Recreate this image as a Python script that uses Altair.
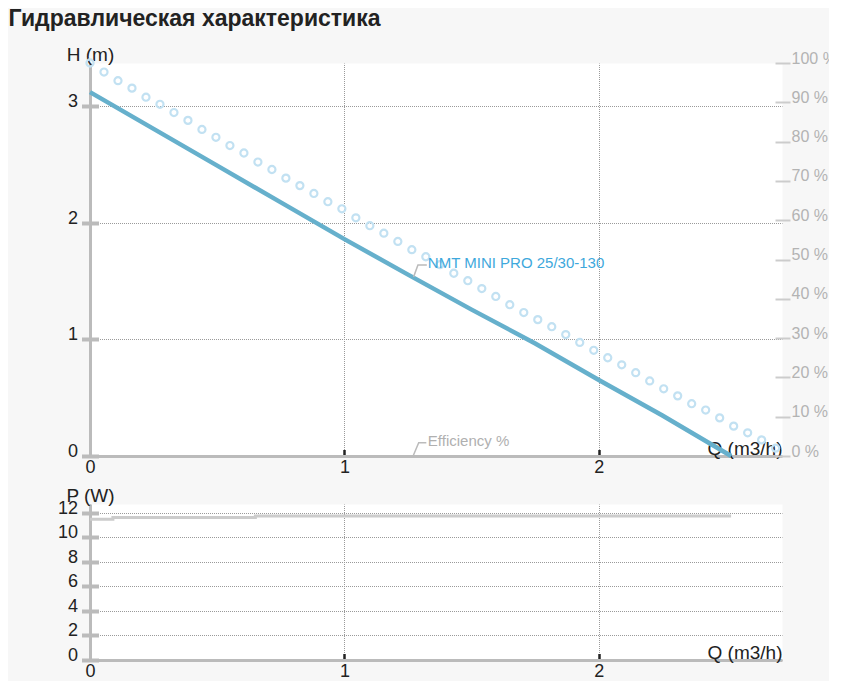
import altair as alt
import pandas as pd

# ---------------- data ----------------
chart_title = "Гидравлическая характеристика"
pump_name = "NMT MINI PRO 25/30-130"
eff_name = "Efficiency %"

q_head = [0.0, 0.25, 0.5, 0.75, 1.0, 1.25, 1.5, 1.75, 2.0, 2.25, 2.52]
h_head = [3.12, 2.805, 2.49, 2.175, 1.86, 1.555, 1.255, 0.965, 0.652, 0.347, 0.0]

q_eff = [0.0, 0.055, 0.11, 0.165, 0.22, 0.275, 0.33, 0.385, 0.44, 0.495,
         0.55, 0.605, 0.66, 0.715, 0.77, 0.825, 0.88, 0.935, 0.99, 1.045,
         1.1, 1.155, 1.21, 1.265, 1.32, 1.375, 1.43, 1.485, 1.54, 1.595,
         1.65, 1.705, 1.76, 1.815, 1.87, 1.925, 1.98, 2.035, 2.09, 2.145,
         2.2, 2.255, 2.31, 2.365, 2.42, 2.475, 2.53, 2.585, 2.64, 2.695]
eff = [100.0, 97.7, 95.5, 93.6, 91.3, 89.5, 87.4, 85.4, 83.1, 81.1,
       79.0, 77.1, 74.8, 72.9, 70.7, 68.8, 66.8, 64.7, 62.9, 60.6,
       58.6, 56.7, 54.6, 52.5, 50.7, 48.7, 46.5, 44.6, 42.6, 40.6,
       38.5, 36.5, 34.7, 32.9, 30.9, 28.9, 26.9, 25.0, 23.2, 21.2,
       19.1, 17.1, 15.3, 13.3, 11.7, 9.7, 7.6, 5.9, 4.1, 2.0]

q_power = [0.0, 0.09, 0.65, 2.52]
p_power = [11.45, 11.6, 11.72, 11.72]

q_ticks = [0, 1, 2]
h_ticks = [0, 1, 2, 3]
eff_ticks = [0, 10, 20, 30, 40, 50, 60, 70, 80, 90, 100]
p_ticks = [0, 2, 4, 6, 8, 10, 12]

q_domain = [0, 2.72]
h_domain = [0, 3.37]
eff_domain = [0, 100]
p_domain = [0, 12.7]

# callouts (data coordinates Q, H)
name_conn_q = [1.272, 1.289, 1.324]
name_conn_h = [1.536, 1.637, 1.637]
name_lab_q = [1.328]
name_lab_h = [1.651]
eff_conn_q = [1.270, 1.292, 1.322]
eff_conn_h = [0.0, 0.114, 0.114]
eff_lab_q = [1.328]
eff_lab_h = [0.129]

# ---------------- style ----------------
FONT = "Liberation Sans"
W = 692
H_TOP = 393
H_BOT = 156
GRID = dict(grid=True, gridColor="#9a9a9a", gridDash=[1, 1], gridDashOffset=0.5,
            gridWidth=1)

head_df = pd.DataFrame({"Q": q_head, "H": h_head})
eff_df = pd.DataFrame({"Q": q_eff, "E": eff})
power_df = pd.DataFrame({"Q": q_power, "P": p_power})
name_conn_df = pd.DataFrame({"Q": name_conn_q, "H": name_conn_h})
eff_conn_df = pd.DataFrame({"Q": eff_conn_q, "H": eff_conn_h})
name_lab_df = pd.DataFrame({"Q": name_lab_q, "H": name_lab_h, "t": [pump_name]})
eff_lab_df = pd.DataFrame({"Q": eff_lab_q, "H": eff_lab_h, "t": [eff_name]})


def x_axis():
    return alt.Axis(
        values=q_ticks, **GRID,
        domainColor="#bbbbbb", domainWidth=3,
        tickColor="#222222", tickWidth=2.5, tickSize={"expr": "-6.5"},
        labelPadding=9, labelFontSize=18, labelColor="#222222", labelFlush=False,
        title="Q (m3/h)", titleX=W, titleY=-2, titleAlign="right",
        titleBaseline="alphabetic", titleFontSize=19, titleFontWeight="normal",
        titleColor="#222222",
    )


def left_axis(vals, ttl):
    return alt.Axis(
        orient="left", values=vals, **GRID,
        domainColor="#bbbbbb", domainWidth=3, ticks=False, tickSize=0,
        labelPadding=12.5, labelOffset=-4.5, labelFontSize=18, labelColor="#222222",
        labelFlush=False, labelOverlap=False,
        title=ttl, titleAngle=0, titleX=0, titleY=-3, titleAlign="center",
        titleBaseline="alphabetic", titleFontSize=19, titleFontWeight="normal",
        titleColor="#222222",
    )


def stub_axis(vals):
    return alt.Axis(
        orient="left", values=vals, offset=-8.5, tickSize=17, tickWidth=4,
        tickColor="#bbbbbb", labels=False, domain=False, grid=False, title=None,
    )


xs = alt.Scale(domain=q_domain, nice=False, zero=False)
hs = alt.Scale(domain=h_domain, nice=False)
es = alt.Scale(domain=eff_domain, nice=False)
ps = alt.Scale(domain=p_domain, nice=False)

X = alt.X("Q:Q", scale=xs, axis=x_axis())
YH = alt.Y("H:Q", scale=hs, axis=left_axis(h_ticks, "H (m)"))

eff_axis = alt.Axis(
    orient="right", values=eff_ticks, offset=-7, tickSize=15, tickWidth=2,
    tickColor="#cccccc", domain=False, grid=False,
    labelExpr="datum.value + ' %'", labelFontSize=16, labelColor="#b3b3b3",
    labelAlign="left", labelBaseline="alphabetic", labelPadding=1,
    labelOverlap=False, labelFlush=False, title=None,
)

eff_pts = alt.Chart(eff_df).mark_point(
    shape="circle", filled=False, size=50, strokeWidth=2.2, color="#c2e1f2", opacity=1
).encode(x=X, y=alt.Y("E:Q", scale=es, axis=eff_axis))

h_line = alt.Chart(head_df).mark_line(color="#66b0cc", strokeWidth=4.5).encode(x=X, y=YH)
name_conn = alt.Chart(name_conn_df).mark_line(color="#bbbbbb", strokeWidth=1.5).encode(x=X, y=YH)
eff_conn = alt.Chart(eff_conn_df).mark_line(color="#bbbbbb", strokeWidth=1.5).encode(x=X, y=YH)
name_txt = alt.Chart(name_lab_df).mark_text(
    align="left", baseline="middle", fontSize=15, color="#3ea8dc", font=FONT
).encode(x=X, y=YH, text="t:N")
eff_txt = alt.Chart(eff_lab_df).mark_text(
    align="left", baseline="middle", fontSize=15, color="#b0b0b0", font=FONT
).encode(x=X, y=YH, text="t:N")

h_group = alt.layer(h_line, name_conn, eff_conn, name_txt, eff_txt)

h_stub = alt.Chart(head_df).mark_line(opacity=0).encode(
    x=X, y=alt.Y("H:Q", scale=hs, axis=stub_axis(h_ticks))
)

top = alt.layer(eff_pts, h_group, h_stub).resolve_scale(y="independent").properties(
    width=W, height=H_TOP
)

Xb = alt.X("Q:Q", scale=xs, axis=x_axis())
p_line = alt.Chart(power_df).mark_line(
    color="#cccccc", strokeWidth=3, interpolate="step-after"
).encode(x=Xb, y=alt.Y("P:Q", scale=ps, axis=left_axis(p_ticks, "P (W)")))
p_stub = alt.Chart(power_df).mark_line(opacity=0).encode(
    x=Xb, y=alt.Y("P:Q", scale=ps, axis=stub_axis(p_ticks))
)
bottom = alt.layer(p_line, p_stub).resolve_scale(y="independent").properties(
    width=W, height=H_BOT
)

chart = alt.vconcat(top, bottom, spacing=48, bounds="flush").properties(
    title=alt.TitleParams(
        text=chart_title, anchor="start", frame="group", dx=-81.5, offset=13.5,
        fontSize=23, fontWeight="bold", color="#222222", font=FONT,
    ),
    background="#f7f7f7",
    padding={"left": 0, "top": 0, "right": -8, "bottom": 0},
).configure(font=FONT).configure_view(fill="#ffffff", stroke="transparent")

chart.save("out.html", embed_options={"renderer": "svg", "actions": False})
